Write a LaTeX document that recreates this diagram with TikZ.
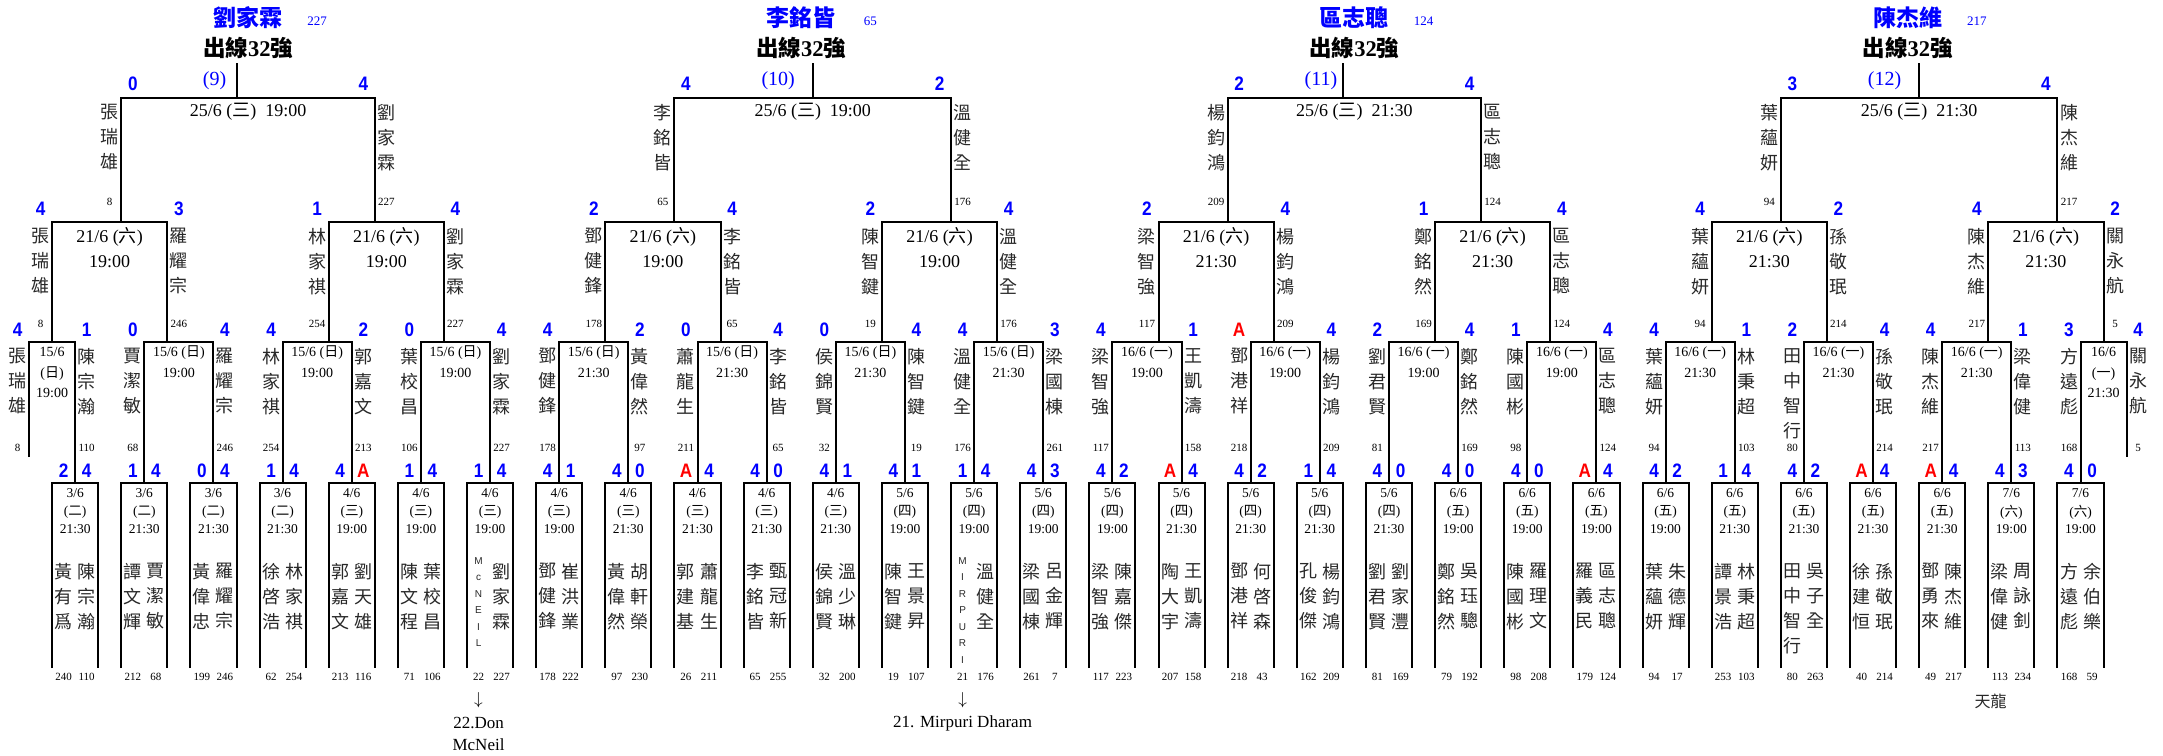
\documentclass[tikz,border=0pt]{standalone}
\usepackage{fontspec}
\setmainfont{Liberation Serif}
\newfontfamily\cjk{Noto Sans CJK TC}
\newfontfamily\lsans{Liberation Sans}
\newfontfamily\scorefont{Liberation Sans}[FakeStretch=0.88]
\XeTeXlinebreaklocale "zh"
\XeTeXlinebreakskip=0pt plus 1pt

\definecolor{scoreblue}{RGB}{0,0,255}
\definecolor{absred}{RGB}{255,0,0}
\definecolor{namegray}{RGB}{40,40,40}

\tikzset{
  bline/.style={line width=2pt},
  score/.style={font=\scorefont\bfseries\fontsize{19.5}{19.5}\selectfont,text=scoreblue,inner sep=0pt},
  pname/.style={font=\cjk\fontsize{18}{25}\selectfont,text=namegray,text width=19pt,align=center,anchor=north,inner sep=0pt},
  pnum/.style={font=\fontsize{11}{11}\selectfont,inner sep=0pt},
  bigdate/.style={font=\fontsize{18}{18}\selectfont,inner sep=0pt},
  middate/.style={font=\fontsize{14}{14}\selectfont,inner sep=0pt},
  smalldate/.style={font=\fontsize{13.5}{13.5}\selectfont,inner sep=0pt},
  tname/.style={font=\cjk\bfseries\fontsize{23}{23}\selectfont,text=scoreblue,inner sep=0pt},
  tnum/.style={font=\fontsize{13}{13}\selectfont,text=scoreblue,inner sep=0pt},
  thead/.style={font=\bfseries\fontsize{22.5}{22.5}\selectfont,inner sep=0pt},
  tseed/.style={font=\fontsize{20}{20}\selectfont,text=scoreblue,inner sep=0pt},
  latinstack/.style={font=\lsans\fontsize{10}{16.5}\selectfont,align=center,anchor=north,inner sep=0pt,text=namegray},
  note/.style={font=\fontsize{17}{17}\selectfont,inner sep=0pt}
}

\newcounter{slotno}
\newcommand{\wk}[1]{({\cjk #1})}
\newcommand{\ab}{\textcolor{absred}{A}}
% score x, name x, score y, name top y, number y, score, name, number
\newcommand{\slot}[8]{\stepcounter{slotno}%
  \node[score] (sc\theslotno) at (#1,#3) {#6};
  \node[pname] (nm\theslotno) at (#2,#4) {#7};
  \node[pnum] (no\theslotno) at (#2,#5) {#8};}
\newcommand{\pa}[5]{\slot{#1}{#2}{84}{104}{202}{#3}{#4}{#5}}
\newcommand{\pb}[4]{\slot{#1}{#1}{209}{228}{324}{#2}{#3}{#4}}
\newcommand{\pc}[4]{\slot{#1}{#1}{330}{348}{448}{#2}{#3}{#4}}
\newcommand{\pd}[4]{\slot{#1}{#1}{471}{563}{677}{#2}{#3}{#4}}
% bracket: left, right, top y, bottom y
\newcommand{\mline}[4]{\draw[bline] (#1,#4) -- (#1,#3) -- (#2,#3) -- (#2,#4);}
\newcommand{\mdate}[3]{\node[bigdate] at (#1,237) {#2}; \node[bigdate] at (#1,262) {#3};}
\newcommand{\rdate}[3]{\node[middate] at (#1,353) {#2}; \node[middate] at (#1,373) {#3};}
\newcommand{\ndate}[4]{\node[middate] at (#1,352) {#2}; \node[middate] at (#1,374) {#3};
  \node[middate] at (#1,393) {#4};}
\newcommand{\gbox}[4]{%
  \draw[bline] ({#1-1},668) -- ({#1-1},483) -- ({#1+1},483) -- ({#1+1},668);
  \node[smalldate] at (#1,493) {#2};
  \node[smalldate] at (#1,512) {\wk{#3}};
  \node[smalldate] at (#1,529) {#4};}
% centre, name, number, seed x, seed
\newcommand{\gtitle}[5]{%
  \node[tname] at (#1,18) {#2};
  \node[tnum] at ({#1+3},21) {#3};
  \node[thead] at (#1,48) {{\cjk\bfseries 出線}32{\cjk\bfseries 強}};
  \node[tseed] at (#4,81) {(#5)};}

\begin{document}
\begin{tikzpicture}[x=23.05pt,y=-1pt]
\path[use as bounding box] (-0.2603,0) rectangle (93.5792,755);

% ---- group 9
\gtitle{10.5}{劉家霖}{227}{9.05}{9}
\draw[bline] (10,63) -- (10,98);
\mline{5}{16}{98}{222}
\node[bigdate] at (10.5,112) {25/6 \wk{三}\hspace{.5em}19:00};
\pa{5.5}{4.5}{0}{張瑞雄}{8}
\pa{15.5}{16.5}{4}{劉家霖}{227}
\mline{2}{7}{222}{342} \mdate{4.5}{21/6 \wk{六}}{19:00}
\pb{1.5}{4}{張瑞雄}{8} \pb{7.5}{3}{羅耀宗}{246}
\mline{14}{19}{222}{342} \mdate{16.5}{21/6 \wk{六}}{19:00}
\pb{13.5}{1}{林家祺}{254} \pb{19.5}{4}{劉家霖}{227}
\draw[bline] (1,457) -- (1,342) -- (3,342) -- (3,483);
\ndate{2}{15/6}{\wk{日}}{19:00}
\pc{0.5}{4}{張瑞雄}{8} \pc{3.5}{1}{陳宗瀚}{110}
\mline{6}{9}{342}{483} \rdate{7.5}{15/6 \wk{日}}{19:00}
\pc{5.5}{0}{賈潔敏}{68} \pc{9.5}{4}{羅耀宗}{246}
\mline{12}{15}{342}{483} \rdate{13.5}{15/6 \wk{日}}{19:00}
\pc{11.5}{4}{林家祺}{254} \pc{15.5}{2}{郭嘉文}{213}
\mline{18}{21}{342}{483} \rdate{19.5}{15/6 \wk{日}}{19:00}
\pc{17.5}{0}{葉校昌}{106} \pc{21.5}{4}{劉家霖}{227}
\gbox{3}{3/6}{二}{21:30} \pd{2.5}{2}{黃有爲}{240} \pd{3.5}{4}{陳宗瀚}{110}
\gbox{6}{3/6}{二}{21:30} \pd{5.5}{1}{譚文輝}{212} \pd{6.5}{4}{賈潔敏}{68}
\gbox{9}{3/6}{二}{21:30} \pd{8.5}{0}{黃偉忠}{199} \pd{9.5}{4}{羅耀宗}{246}
\gbox{12}{3/6}{二}{21:30} \pd{11.5}{1}{徐啓浩}{62} \pd{12.5}{4}{林家祺}{254}
\gbox{15}{4/6}{三}{19:00} \pd{14.5}{4}{郭嘉文}{213} \pd{15.5}{\ab}{劉天雄}{116}
\gbox{18}{4/6}{三}{19:00} \pd{17.5}{1}{陳文程}{71} \pd{18.5}{4}{葉校昌}{106}
\gbox{21}{4/6}{三}{19:00} \pd{20.5}{1}{}{22} \pd{21.5}{4}{劉家霖}{227}
\node[latinstack] (mcneil) at (20.5,557) {M\\c\\N\\E\\I\\L};
\node[note] (arr22) at (20.5,700) {$\downarrow$};
\node[note] (don) at (20.5,723) {22.Don};
\node[note] (mcn) at (20.5,745) {McNeil};

% ---- group 10
\gtitle{34.5}{李銘皆}{65}{33.5}{10}
\draw[bline] (35,63) -- (35,98);
\mline{29}{41}{98}{222}
\node[bigdate] at (35,112) {25/6 \wk{三}\hspace{.5em}19:00};
\pa{29.5}{28.5}{4}{李銘皆}{65}
\pa{40.5}{41.5}{2}{溫健全}{176}
\mline{26}{31}{222}{342} \mdate{28.5}{21/6 \wk{六}}{19:00}
\pb{25.5}{2}{鄧健鋒}{178} \pb{31.5}{4}{李銘皆}{65}
\mline{38}{43}{222}{342} \mdate{40.5}{21/6 \wk{六}}{19:00}
\pb{37.5}{2}{陳智鍵}{19} \pb{43.5}{4}{溫健全}{176}
\mline{24}{27}{342}{483} \rdate{25.5}{15/6 \wk{日}}{21:30}
\pc{23.5}{4}{鄧健鋒}{178} \pc{27.5}{2}{黃偉然}{97}
\mline{30}{33}{342}{483} \rdate{31.5}{15/6 \wk{日}}{21:30}
\pc{29.5}{0}{蕭龍生}{211} \pc{33.5}{4}{李銘皆}{65}
\mline{36}{39}{342}{483} \rdate{37.5}{15/6 \wk{日}}{21:30}
\pc{35.5}{0}{侯錦賢}{32} \pc{39.5}{4}{陳智鍵}{19}
\mline{42}{45}{342}{483} \rdate{43.5}{15/6 \wk{日}}{21:30}
\pc{41.5}{4}{溫健全}{176} \pc{45.5}{3}{梁國棟}{261}
\gbox{24}{4/6}{三}{19:00} \pd{23.5}{4}{鄧健鋒}{178} \pd{24.5}{1}{崔洪業}{222}
\gbox{27}{4/6}{三}{21:30} \pd{26.5}{4}{黃偉然}{97} \pd{27.5}{0}{胡軒榮}{230}
\gbox{30}{4/6}{三}{21:30} \pd{29.5}{\ab}{郭建基}{26} \pd{30.5}{4}{蕭龍生}{211}
\gbox{33}{4/6}{三}{21:30} \pd{32.5}{4}{李銘皆}{65} \pd{33.5}{0}{甄冠新}{255}
\gbox{36}{4/6}{三}{21:30} \pd{35.5}{4}{侯錦賢}{32} \pd{36.5}{1}{溫少琳}{200}
\gbox{39}{5/6}{四}{19:00} \pd{38.5}{4}{陳智鍵}{19} \pd{39.5}{1}{王景昇}{107}
\gbox{42}{5/6}{四}{19:00} \pd{41.5}{1}{}{21} \pd{42.5}{4}{溫健全}{176}
\gbox{45}{5/6}{四}{19:00} \pd{44.5}{4}{梁國棟}{261} \pd{45.5}{3}{呂金輝}{7}
\node[latinstack] (mirpuri) at (41.5,557) {M\\I\\R\\P\\U\\R\\I};
\node[note] (arr21) at (41.5,700) {$\downarrow$};
\node[note] (dharam) at (41.5,723) {21. Mirpuri Dharam};

% ---- group 11
\gtitle{58.5}{區志聰}{124}{57.05}{11}
\draw[bline] (58,63) -- (58,98);
\mline{53}{64}{98}{222}
\node[bigdate] at (58.5,112) {25/6 \wk{三}\hspace{.5em}21:30};
\pa{53.5}{52.5}{2}{楊鈞鴻}{209}
\pa{63.5}{64.5}{4}{區志聰}{124}
\mline{50}{55}{222}{342} \mdate{52.5}{21/6 \wk{六}}{21:30}
\pb{49.5}{2}{梁智強}{117} \pb{55.5}{4}{楊鈞鴻}{209}
\mline{62}{67}{222}{342} \mdate{64.5}{21/6 \wk{六}}{21:30}
\pb{61.5}{1}{鄭銘然}{169} \pb{67.5}{4}{區志聰}{124}
\mline{48}{51}{342}{483} \rdate{49.5}{16/6 \wk{一}}{19:00}
\pc{47.5}{4}{梁智強}{117} \pc{51.5}{1}{王凱濤}{158}
\mline{54}{57}{342}{483} \rdate{55.5}{16/6 \wk{一}}{19:00}
\pc{53.5}{\ab}{鄧港祥}{218} \pc{57.5}{4}{楊鈞鴻}{209}
\mline{60}{63}{342}{483} \rdate{61.5}{16/6 \wk{一}}{19:00}
\pc{59.5}{2}{劉君賢}{81} \pc{63.5}{4}{鄭銘然}{169}
\mline{66}{69}{342}{483} \rdate{67.5}{16/6 \wk{一}}{19:00}
\pc{65.5}{1}{陳國彬}{98} \pc{69.5}{4}{區志聰}{124}
\gbox{48}{5/6}{四}{19:00} \pd{47.5}{4}{梁智強}{117} \pd{48.5}{2}{陳嘉傑}{223}
\gbox{51}{5/6}{四}{21:30} \pd{50.5}{\ab}{陶大宇}{207} \pd{51.5}{4}{王凱濤}{158}
\gbox{54}{5/6}{四}{21:30} \pd{53.5}{4}{鄧港祥}{218} \pd{54.5}{2}{何啓森}{43}
\gbox{57}{5/6}{四}{21:30} \pd{56.5}{1}{孔俊傑}{162} \pd{57.5}{4}{楊鈞鴻}{209}
\gbox{60}{5/6}{四}{21:30} \pd{59.5}{4}{劉君賢}{81} \pd{60.5}{0}{劉家灃}{169}
\gbox{63}{6/6}{五}{19:00} \pd{62.5}{4}{鄭銘然}{79} \pd{63.5}{0}{吳珏驄}{192}
\gbox{66}{6/6}{五}{19:00} \pd{65.5}{4}{陳國彬}{98} \pd{66.5}{0}{羅理文}{208}
\gbox{69}{6/6}{五}{19:00} \pd{68.5}{\ab}{羅義民}{179} \pd{69.5}{4}{區志聰}{124}

% ---- group 12
\gtitle{82.5}{陳杰維}{217}{81.5}{12}
\draw[bline] (83,63) -- (83,98);
\mline{77}{89}{98}{222}
\node[bigdate] at (83,112) {25/6 \wk{三}\hspace{.5em}21:30};
\pa{77.5}{76.5}{3}{葉蘊妍}{94}
\pa{88.5}{89.5}{4}{陳杰維}{217}
\mline{74}{79}{222}{342} \mdate{76.5}{21/6 \wk{六}}{21:30}
\pb{73.5}{4}{葉蘊妍}{94} \pb{79.5}{2}{孫敬珉}{214}
\mline{86}{91}{222}{342} \mdate{88.5}{21/6 \wk{六}}{21:30}
\pb{85.5}{4}{陳杰維}{217} \pb{91.5}{2}{關永航}{5}
\mline{72}{75}{342}{483} \rdate{73.5}{16/6 \wk{一}}{21:30}
\pc{71.5}{4}{葉蘊妍}{94} \pc{75.5}{1}{林秉超}{103}
\mline{78}{81}{342}{483} \rdate{79.5}{16/6 \wk{一}}{21:30}
\pc{77.5}{2}{田中智行}{80} \pc{81.5}{4}{孫敬珉}{214}
\mline{84}{87}{342}{483} \rdate{85.5}{16/6 \wk{一}}{21:30}
\pc{83.5}{4}{陳杰維}{217} \pc{87.5}{1}{梁偉健}{113}
\draw[bline] (90,483) -- (90,342) -- (92,342) -- (92,457);
\ndate{91}{16/6}{\wk{一}}{21:30}
\pc{89.5}{3}{方遠彪}{168} \pc{92.5}{4}{關永航}{5}
\gbox{72}{6/6}{五}{19:00} \pd{71.5}{4}{葉蘊妍}{94} \pd{72.5}{2}{朱德輝}{17}
\gbox{75}{6/6}{五}{21:30} \pd{74.5}{1}{譚景浩}{253} \pd{75.5}{4}{林秉超}{103}
\gbox{78}{6/6}{五}{21:30} \pd{77.5}{4}{田中智行}{80} \pd{78.5}{2}{吳子全}{263}
\gbox{81}{6/6}{五}{21:30} \pd{80.5}{\ab}{徐建恒}{40} \pd{81.5}{4}{孫敬珉}{214}
\gbox{84}{6/6}{五}{21:30} \pd{83.5}{\ab}{鄧勇來}{49} \pd{84.5}{4}{陳杰維}{217}
\gbox{87}{7/6}{六}{19:00} \pd{86.5}{4}{梁偉健}{113} \pd{87.5}{3}{周詠釗}{234}
\gbox{90}{7/6}{六}{19:00} \pd{89.5}{4}{方遠彪}{168} \pd{90.5}{0}{余伯樂}{59}
\node[font=\cjk\fontsize{16}{16}\selectfont,text=namegray,inner sep=0pt] (tianlong) at (86.1,701) {天龍};
\end{tikzpicture}
\end{document}
